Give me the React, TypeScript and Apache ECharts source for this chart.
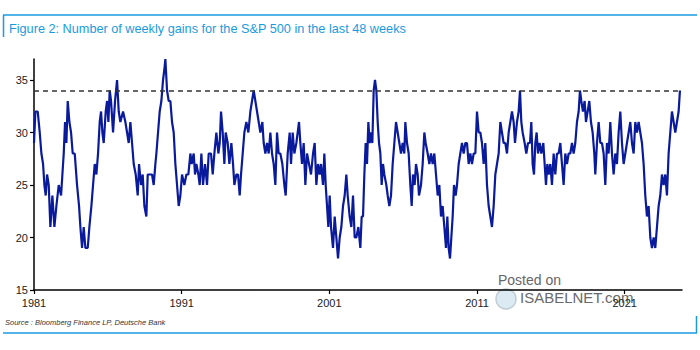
import React, { useEffect, useRef } from "react";
import * as echarts from "echarts";

// Number of weekly gains in the last 48 weeks, [year, count]
const years1980s = [1981.0, 1981.094, 1981.252, 1981.388, 1981.501, 1981.614, 1981.704, 1981.794, 1981.884, 1981.997, 1982.11, 1982.245, 1982.381, 1982.516, 1982.674, 1982.832, 1982.923, 1983.013, 1983.103, 1983.193, 1983.284, 1983.397, 1983.509, 1983.622, 1983.758, 1983.915, 1984.051, 1984.141, 1984.254, 1984.367, 1984.48, 1984.638, 1984.75, 1984.886, 1984.999, 1985.112, 1985.224, 1985.337, 1985.45, 1985.54, 1985.631, 1985.721, 1985.856, 1985.947, 1986.037, 1986.127, 1986.217, 1986.353, 1986.488, 1986.624, 1986.737, 1986.849, 1987.03, 1987.188, 1987.301, 1987.414, 1987.526, 1987.639, 1987.752, 1987.888, 1988.023, 1988.113, 1988.249, 1988.361, 1988.474, 1988.609, 1988.7, 1988.835, 1988.993, 1989.106, 1989.219, 1989.287, 1989.399, 1989.512, 1989.625, 1989.738, 1989.828, 1989.896, 1990.009, 1990.122, 1990.235, 1990.347, 1990.46, 1990.573, 1990.686, 1990.799, 1990.912, 1991.024, 1991.182, 1991.318, 1991.453, 1991.589, 1991.679, 1991.814, 1991.904];
const gains1980s = [29, 32, 32, 30, 28, 27, 25, 24, 26, 25, 21, 24, 21, 23, 25, 24, 26, 28, 31, 29, 33, 31, 30, 28, 28, 25, 23, 21, 19, 21, 19, 19, 21, 23, 25, 27, 26, 28, 31, 32, 30, 29, 32, 33, 31, 34, 33, 30, 33, 35, 32, 31, 32, 31, 30, 29, 31, 29, 27, 26, 24, 27, 25, 26, 23, 22, 26, 26, 26, 25, 27, 28, 30, 32, 33, 35, 36, 37, 34, 33, 33, 31, 30, 27, 25, 23, 24, 26, 25, 26, 26, 28, 27, 28, 26];

const years1990s = [1991.995, 1992.131, 1992.221, 1992.334, 1992.447, 1992.582, 1992.717, 1992.83, 1992.988, 1993.101, 1993.214, 1993.349, 1993.485, 1993.575, 1993.665, 1993.778, 1993.891, 1993.981, 1994.117, 1994.229, 1994.365, 1994.478, 1994.568, 1994.703, 1994.816, 1994.929, 1995.019, 1995.132, 1995.245, 1995.38, 1995.516, 1995.651, 1995.764, 1995.877, 1995.99, 1996.103, 1996.215, 1996.328, 1996.464, 1996.554, 1996.667, 1996.78, 1996.892, 1997.005, 1997.118, 1997.231, 1997.344, 1997.457, 1997.569, 1997.682, 1997.818, 1997.953, 1998.043, 1998.179, 1998.314, 1998.404, 1998.517, 1998.63, 1998.766, 1998.856, 1998.946, 1999.036, 1999.149, 1999.262, 1999.375, 1999.488, 1999.623, 1999.759, 1999.894, 2000.007, 2000.12, 2000.233, 2000.345, 2000.436, 2000.571, 2000.661, 2000.752, 2000.842, 2000.932, 2001.022, 2001.113, 2001.248, 2001.361, 2001.474, 2001.587, 2001.7, 2001.812, 2001.925, 2002.038, 2002.151, 2002.241, 2002.376, 2002.489, 2002.602, 2002.715];
const gains1990s = [27, 26, 25, 28, 25, 27, 25, 28, 28, 26, 28, 30, 28, 29, 32, 30, 27, 30, 29, 27, 29, 27, 25, 26, 26, 24, 26, 28, 30, 31, 30, 32, 33, 34, 33, 32, 31, 30, 31, 29, 28, 29, 28, 30, 28, 27, 25, 30, 28, 28, 27, 25, 24, 28, 30, 27, 30, 28, 29, 30, 31, 29, 27, 29, 25, 28, 27, 26, 28, 29, 25, 27, 26, 27, 25, 28, 25, 23, 21, 24, 21, 19, 22, 20, 18, 20, 21, 23, 24, 26, 24, 22, 21, 24, 20];

const years2000s = [2002.828, 2002.964, 2003.099, 2003.189, 2003.28, 2003.37, 2003.46, 2003.55, 2003.641, 2003.731, 2003.821, 2003.911, 2004.002, 2004.092, 2004.182, 2004.273, 2004.363, 2004.453, 2004.543, 2004.634, 2004.724, 2004.859, 2004.95, 2005.062, 2005.175, 2005.288, 2005.401, 2005.514, 2005.627, 2005.739, 2005.852, 2005.965, 2006.078, 2006.146, 2006.259, 2006.371, 2006.484, 2006.575, 2006.665, 2006.778, 2006.868, 2006.981, 2007.071, 2007.206, 2007.319, 2007.432, 2007.522, 2007.658, 2007.771, 2007.883, 2007.996, 2008.109, 2008.222, 2008.335, 2008.448, 2008.56, 2008.673, 2008.786, 2008.899, 2008.989, 2009.08, 2009.17, 2009.26, 2009.35, 2009.441, 2009.553, 2009.644, 2009.757, 2009.869, 2009.982, 2010.095, 2010.208, 2010.321, 2010.434, 2010.546, 2010.659, 2010.772, 2010.885, 2010.998, 2011.111, 2011.224, 2011.336, 2011.449, 2011.562, 2011.675, 2011.788, 2011.9, 2012.013, 2012.126, 2012.239, 2012.352, 2012.465, 2012.578, 2012.69, 2012.803, 2012.916, 2013.029, 2013.142, 2013.255, 2013.368, 2013.48, 2013.571];
const gains2000s = [20, 21, 19, 22, 22, 26, 29, 27, 31, 29, 30, 29, 34, 35, 34, 31, 29, 28, 25, 27, 26, 25, 24, 23, 24, 27, 29, 31, 30, 29, 28, 29, 28, 31, 29, 28, 25, 23, 26, 25, 27, 26, 24, 25, 27, 30, 29, 28, 27, 28, 27, 28, 26, 24, 25, 22, 23, 21, 19, 22, 19, 18, 20, 22, 25, 24, 25, 27, 28, 29, 28, 29, 29, 27, 28, 27, 28, 28, 32, 30, 30, 29, 27, 29, 25, 23, 22, 21, 23, 26, 27, 28, 31, 30, 29, 29, 28, 30, 31, 32, 31, 29];

const years2010s = [2013.706, 2013.819, 2013.909, 2013.999, 2014.089, 2014.225, 2014.338, 2014.451, 2014.586, 2014.676, 2014.766, 2014.857, 2014.947, 2015.037, 2015.128, 2015.24, 2015.353, 2015.489, 2015.579, 2015.669, 2015.76, 2015.85, 2015.963, 2016.075, 2016.188, 2016.301, 2016.414, 2016.527, 2016.64, 2016.752, 2016.865, 2016.978, 2017.091, 2017.204, 2017.317, 2017.43, 2017.542, 2017.655, 2017.768, 2017.881, 2017.971, 2018.061, 2018.174, 2018.287, 2018.377, 2018.49, 2018.603, 2018.716, 2018.829, 2018.942, 2019.009, 2019.122, 2019.235, 2019.348, 2019.461, 2019.574, 2019.686, 2019.799, 2019.912, 2020.025, 2020.138, 2020.251, 2020.363, 2020.476, 2020.589, 2020.702, 2020.815, 2020.928, 2021.041, 2021.153, 2021.266, 2021.379, 2021.492, 2021.605, 2021.717, 2021.83, 2021.943, 2022.056, 2022.169, 2022.282, 2022.394, 2022.507, 2022.62, 2022.733, 2022.846, 2022.959, 2023.071, 2023.184, 2023.297, 2023.41, 2023.523, 2023.636, 2023.748, 2023.861, 2023.974, 2024.087, 2024.2, 2024.313, 2024.426, 2024.538, 2024.651, 2024.741];
const gains2010s = [31, 32, 34, 31, 30, 29, 28, 29, 29, 31, 27, 26, 29, 30, 28, 29, 28, 29, 27, 25, 27, 26, 27, 25, 28, 26, 28, 28, 29, 27, 25, 28, 27, 28, 28, 29, 28, 29, 31, 32, 34, 33, 32, 33, 31, 32, 33, 31, 30, 28, 26, 29, 31, 29, 29, 28, 25, 29, 28, 31, 28, 26, 28, 27, 30, 32, 29, 27, 28, 29, 30, 31, 29, 28, 31, 30, 31, 30, 29, 27, 24, 22, 23, 20, 19, 20, 19, 21, 23, 24, 26, 25, 26, 24, 28, 30, 32, 31, 30, 31, 32, 34];

const tickYears = [1981, 1991, 2001, 2011, 2021];
const yTicks = { min: 15, max: 37, interval: 5 };
const threshold = 34;

const TITLE = "Figure 2: Number of weekly gains for the S&P 500 in the last 48 weeks";
const SOURCE = "Source : Bloomberg Finance LP, Deutsche Bank";

export default function App() {
  const ref = useRef<HTMLDivElement>(null);
  useEffect(() => {
    if (!ref.current) return;
    const chart = echarts.init(ref.current, undefined, { renderer: "svg" });
    const allYears = [...years1980s, ...years1990s, ...years2000s, ...years2010s];
    const allGains = [...gains1980s, ...gains1990s, ...gains2000s, ...gains2010s];
    const data = allYears.map((y, i) => [y, allGains[i]]);
    const blue = "#1a9be0";
    chart.setOption({
      animation: false,
      backgroundColor: "#ffffff",
      grid: { left: 34, right: 18, top: 59, bottom: 60, containLabel: false },
      xAxis: {
        type: "value",
        min: 1981,
        max: 2024.88,
        axisLine: { show: true, lineStyle: { color: "#000", width: 1.5 } },
        axisTick: { show: true, length: 4, customValues: tickYears, lineStyle: { color: "#000", width: 1.2 } },
        axisLabel: {
          customValues: tickYears,
          formatter: (v: number) => String(Math.round(v)),
          color: "#222",
          fontSize: 11,
          fontFamily: "'Liberation Sans Narrow', 'Liberation Sans', Arial, sans-serif",
          margin: 7,
        },
        splitLine: { show: false },
      },
      yAxis: {
        type: "value",
        min: yTicks.min,
        max: yTicks.max,
        interval: yTicks.interval,
        axisLine: { show: true, lineStyle: { color: "#000", width: 1.5 } },
        axisTick: { show: true, length: 4, lineStyle: { color: "#000", width: 1.2 } },
        axisLabel: {
          color: "#222",
          fontSize: 11,
          fontFamily: "'Liberation Sans', Arial, sans-serif",
          margin: 6,
          showMaxLabel: false,
        },
        splitLine: { show: false },
      },
      series: [
        {
          type: "line",
          data,
          showSymbol: false,
          symbol: "none",
          lineStyle: { color: "#0a1a9c", width: 2.2 },
          markLine: {
            silent: true,
            symbol: "none",
            label: { show: false },
            lineStyle: { color: "#333", width: 1.5, type: [5, 4] },
            data: [{ yAxis: threshold }],
          },
        },
      ],
      graphic: [
        { type: "line", shape: { x1: 3, y1: 15, x2: 697, y2: 15 }, style: { stroke: blue, lineWidth: 1.5 } },
        { type: "line", shape: { x1: 3.5, y1: 15, x2: 3.5, y2: 37 }, style: { stroke: blue, lineWidth: 1.5 } },
        {
          type: "text",
          left: 9,
          top: 22,
          style: { text: TITLE, fill: blue, fontSize: 12.7, fontFamily: "'Liberation Sans', Arial, sans-serif" },
        },
        {
          type: "text",
          left: 5,
          top: 318,
          style: { text: SOURCE, fill: "#333", fontSize: 7.5, fontStyle: "italic", fontFamily: "'Liberation Sans', Arial, sans-serif" },
        },
        { type: "line", shape: { x1: 3, y1: 333, x2: 697, y2: 333 }, style: { stroke: blue, lineWidth: 1.5 } },
        { type: "line", shape: { x1: 696.5, y1: 316, x2: 696.5, y2: 333 }, style: { stroke: blue, lineWidth: 1.5 } },
        {
          type: "text",
          left: 498,
          top: 273,
          style: { text: "Posted on", fill: "#666", fontSize: 14, fontFamily: "'Liberation Sans', Arial, sans-serif" },
        },
        {
          type: "circle",
          shape: { cx: 506, cy: 299, r: 10 },
          style: { fill: "#d6e6f2", stroke: "#b8c4cc", lineWidth: 1.5, opacity: 0.85 },
        },
        {
          type: "text",
          left: 520,
          top: 290,
          style: { text: "ISABELNET.com", fill: "#6a6a6a", fontSize: 15, fontFamily: "'Liberation Sans', Arial, sans-serif" },
        },
      ],
    });
    return () => chart.dispose();
  }, []);
  return <div ref={ref} style={{ position: "absolute", left: 0, top: 0, width: 700, height: 350 }} />;
}
